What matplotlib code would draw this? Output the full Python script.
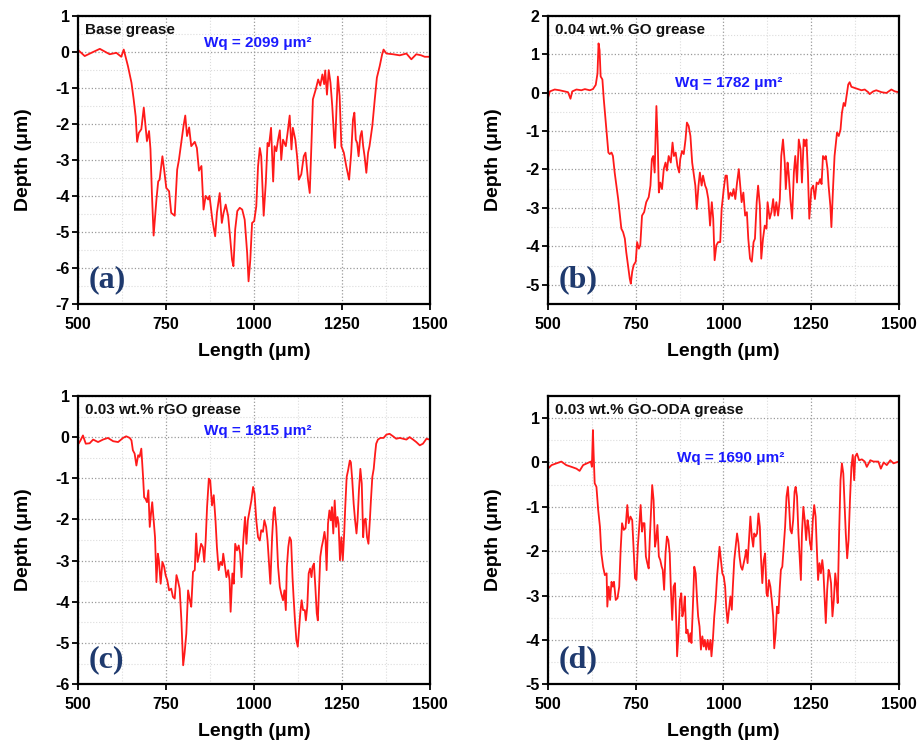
import matplotlib
matplotlib.use('Agg')
import matplotlib.pyplot as plt
import numpy as np
from matplotlib.ticker import MultipleLocator

plt.rcParams.update({'font.family': 'Liberation Sans', 'font.weight': 'bold',
                     'axes.unicode_minus': False})

# wear-scar cross-section profiles: (length um, depth um)
base_profile = [
    (500, 0.05), (519, -0.12), (538, -0.03), (562, 0.08), (590, -0.07), (609, -0.03), (623, -0.14),
    (630, 0.06), (642, -0.4), (652, -0.86), (658, -1.3), (664, -1.8), (668, -2.5), (673, -2.25),
    (680, -2.15), (687, -1.55), (692, -2.06), (696, -2.48), (702, -2.2), (706, -2.7), (710, -3.9),
    (715, -5.1), (723, -4.1), (728, -3.6), (732, -3.55), (740, -2.9), (746, -3.36), (751, -3.78),
    (759, -3.87), (765, -4.47), (775, -4.55), (782, -3.27), (787, -3.0), (794, -2.5), (800, -2.06),
    (805, -1.77), (810, -2.34), (816, -2.1), (822, -2.62), (832, -2.5), (838, -2.67), (844, -3.3),
    (851, -3.17), (857, -4.38), (863, -4.0), (870, -4.1), (874, -4.0), (882, -4.66), (890, -5.12),
    (895, -4.47), (903, -3.92), (909, -4.75), (914, -4.47), (920, -4.24), (927, -4.56), (933, -5.2),
    (938, -5.77), (942, -5.95), (947, -4.93), (953, -4.42), (960, -4.33), (967, -4.38), (974, -4.66),
    (981, -5.58), (985, -6.37), (990, -5.77), (995, -4.75), (1001, -4.7), (1007, -4.29), (1012, -3.18),
    (1017, -2.67), (1021, -2.9), (1028, -4.55), (1034, -3.64), (1039, -2.53), (1043, -2.62),
    (1049, -2.11), (1055, -3.6), (1059, -2.62), (1064, -2.76), (1069, -2.44), (1074, -2.18),
    (1078, -3.0), (1083, -2.44), (1091, -2.62), (1096, -2.25), (1102, -1.77), (1107, -2.71),
    (1111, -2.11), (1118, -2.44), (1123, -2.9), (1128, -3.55), (1135, -3.4), (1142, -2.9),
    (1147, -2.8), (1154, -3.55), (1159, -3.92), (1164, -2.53), (1168, -1.32), (1176, -1.05),
    (1183, -0.77), (1189, -0.94), (1195, -0.63), (1200, -0.9), (1203, -0.52), (1208, -1.19),
    (1213, -0.51), (1218, -0.86), (1223, -1.5), (1228, -2.34), (1231, -2.67), (1235, -1.6),
    (1239, -0.69), (1244, -1.23), (1249, -2.62), (1256, -2.8), (1263, -3.18), (1271, -3.55),
    (1277, -2.8), (1282, -1.88), (1286, -1.69), (1290, -2.44), (1294, -2.53), (1298, -2.9),
    (1303, -2.34), (1307, -2.2), (1311, -2.62), (1315, -2.9), (1320, -3.36), (1325, -2.8),
    (1329, -2.62), (1337, -2.06), (1344, -1.32), (1350, -0.72), (1358, -0.4), (1365, -0.07),
    (1369, 0.06), (1377, -0.05), (1396, -0.07), (1415, -0.1), (1434, -0.05), (1448, -0.21),
    (1462, -0.07), (1476, -0.1), (1486, -0.14), (1500, -0.14),
]

go_profile = [
    (500, -0.14), (505, 0.03), (519, 0.08), (533, 0.06), (548, 0.03), (557, 0.01), (564, -0.16),
    (569, 0.03), (581, 0.08), (595, 0.06), (605, 0.09), (619, 0.06), (628, 0.09), (636, 0.2),
    (641, 0.5), (644, 1.28), (647, 1.1), (650, 0.42), (655, 0.34), (659, -0.18), (664, -0.7),
    (668, -1.13), (672, -1.56), (676, -1.6), (681, -1.56), (685, -1.65), (690, -2.08), (695, -2.42),
    (700, -2.77), (704, -3.11), (709, -3.54), (714, -3.63), (719, -3.8), (723, -4.15), (728, -4.49),
    (733, -4.84), (736, -4.97), (740, -4.66), (744, -4.49), (750, -4.4), (754, -3.89), (759, -4.06),
    (763, -3.97), (768, -3.2), (774, -3.11), (780, -2.85), (787, -2.72), (792, -2.42), (796, -1.73),
    (800, -1.65), (804, -2.08), (809, -0.35), (813, -1.39), (816, -2.6), (820, -2.34), (825, -2.51),
    (830, -1.99), (835, -1.82), (839, -2.03), (844, -1.65), (850, -1.82), (855, -1.3), (859, -1.65),
    (864, -1.56), (869, -1.91), (874, -2.08), (877, -1.73), (882, -1.52), (887, -1.6), (892, -1.22),
    (896, -0.78), (901, -0.87), (906, -1.13), (911, -1.82), (915, -2.08), (920, -2.42), (924, -3.03),
    (929, -2.42), (933, -2.08), (938, -2.42), (942, -2.16), (948, -2.42), (952, -2.51), (957, -2.77),
    (962, -3.46), (967, -2.85), (971, -3.28), (975, -4.36), (980, -3.97), (985, -3.89), (991, -3.89),
    (995, -3.03), (1001, -2.51), (1006, -2.16), (1010, -2.16), (1015, -2.77), (1020, -2.6),
    (1025, -2.69), (1029, -2.51), (1034, -2.77), (1039, -2.34), (1044, -1.99), (1048, -2.42),
    (1052, -2.85), (1057, -2.6), (1062, -3.2), (1067, -3.11), (1071, -3.8), (1076, -4.32),
    (1081, -4.4), (1086, -3.89), (1090, -3.8), (1095, -2.85), (1099, -2.42), (1104, -2.94),
    (1108, -4.32), (1113, -3.8), (1118, -3.46), (1123, -3.54), (1126, -2.85), (1132, -3.28),
    (1137, -3.11), (1142, -2.77), (1146, -3.2), (1151, -2.85), (1156, -3.2), (1161, -2.77),
    (1165, -1.65), (1170, -1.22), (1175, -1.82), (1178, -2.51), (1183, -1.82), (1186, -2.08),
    (1191, -2.77), (1196, -3.28), (1201, -2.08), (1205, -1.65), (1210, -2.34), (1215, -1.22),
    (1220, -1.47), (1224, -2.34), (1229, -1.22), (1233, -1.39), (1237, -1.22), (1241, -2.08),
    (1245, -3.28), (1251, -2.51), (1256, -2.42), (1261, -2.77), (1266, -2.34), (1271, -2.38),
    (1276, -2.25), (1280, -2.38), (1284, -1.65), (1289, -1.73), (1292, -1.65), (1297, -1.99),
    (1300, -2.42), (1305, -2.94), (1308, -3.5), (1313, -2.42), (1317, -1.65), (1320, -1.39),
    (1324, -1.04), (1329, -1.13), (1334, -0.96), (1338, -0.53), (1343, -0.27), (1347, -0.35),
    (1351, -0.1), (1356, 0.21), (1360, 0.27), (1365, 0.15), (1375, 0.12), (1384, 0.09), (1394, 0.06),
    (1403, 0.08), (1413, 0.01), (1417, -0.04), (1427, 0.03), (1436, 0.06), (1451, 0.01),
    (1465, -0.01), (1479, 0.08), (1489, 0.03), (1500, 0.01),
]

rgo_profile = [
    (500, -0.18), (507, -0.08), (514, 0.04), (522, -0.16), (533, -0.15), (543, -0.06), (557, -0.12),
    (571, -0.06), (585, -0.02), (600, -0.1), (614, -0.12), (628, -0.02), (637, 0.02), (647, -0.02),
    (652, -0.08), (656, -0.32), (661, -0.4), (666, -0.69), (671, -0.44), (675, -0.48), (680, -0.28),
    (685, -0.97), (688, -1.46), (692, -1.5), (696, -1.58), (700, -1.29), (704, -2.18), (708, -1.82),
    (711, -1.58), (715, -2.02), (719, -2.43), (723, -3.52), (727, -2.83), (730, -2.99), (735, -3.56),
    (740, -3.03), (745, -3.15), (749, -3.35), (754, -3.48), (759, -3.72), (765, -3.68), (770, -3.88),
    (775, -3.92), (780, -3.35), (784, -3.48), (789, -3.68), (794, -4.45), (799, -5.54), (803, -5.25),
    (808, -4.77), (813, -3.72), (818, -3.96), (822, -4.12), (827, -3.27), (832, -3.23), (836, -2.34),
    (840, -3.03), (845, -2.83), (850, -2.59), (855, -2.67), (859, -3.03), (863, -2.51), (867, -1.7),
    (872, -1.01), (876, -1.05), (881, -1.66), (886, -1.41), (891, -2.02), (895, -2.67), (900, -3.23),
    (905, -3.03), (910, -3.11), (913, -2.83), (918, -3.15), (922, -3.4), (927, -3.23), (931, -3.48),
    (934, -4.24), (939, -3.31), (943, -3.56), (947, -2.59), (952, -2.75), (957, -2.63), (961, -2.83),
    (965, -3.4), (970, -2.51), (975, -1.94), (979, -2.59), (983, -2.02), (988, -1.78), (993, -1.54),
    (998, -1.21), (1002, -1.37), (1007, -2.02), (1012, -2.43), (1017, -2.51), (1021, -2.26),
    (1026, -2.3), (1030, -2.02), (1035, -2.18), (1039, -2.51), (1043, -3.03), (1047, -3.56),
    (1052, -2.43), (1056, -1.82), (1059, -1.7), (1064, -2.18), (1069, -3.15), (1074, -3.64),
    (1078, -3.8), (1083, -3.96), (1087, -3.72), (1091, -4.2), (1094, -3.15), (1098, -2.67),
    (1102, -2.43), (1106, -2.51), (1110, -3.4), (1113, -3.88), (1117, -4.45), (1121, -4.93),
    (1125, -5.09), (1129, -4.61), (1132, -4.28), (1136, -3.96), (1140, -4.2), (1145, -4.2),
    (1148, -4.45), (1152, -4.12), (1156, -3.31), (1160, -3.19), (1164, -3.4), (1167, -3.15),
    (1171, -3.07), (1175, -3.64), (1179, -4.28), (1182, -4.45), (1185, -3.8), (1189, -2.91),
    (1193, -2.67), (1197, -2.51), (1201, -2.3), (1204, -2.51), (1207, -3.23), (1211, -2.1),
    (1215, -1.78), (1219, -2.02), (1222, -1.7), (1226, -2.34), (1230, -1.54), (1234, -2.18),
    (1238, -1.94), (1241, -2.1), (1245, -2.99), (1249, -2.43), (1253, -2.99), (1257, -2.34),
    (1260, -1.7), (1264, -0.97), (1268, -0.81), (1273, -0.57), (1276, -0.61), (1280, -1.05),
    (1284, -1.62), (1288, -2.02), (1292, -2.34), (1295, -2.02), (1299, -1.29), (1303, -0.77),
    (1307, -1.13), (1311, -2.43), (1314, -2.02), (1318, -1.98), (1322, -2.43), (1326, -2.59),
    (1330, -2.02), (1333, -1.54), (1337, -0.97), (1341, -0.77), (1345, -0.4), (1348, -0.16),
    (1353, -0.06), (1360, -0.02), (1369, -0.02), (1377, 0.06), (1386, 0.08), (1396, 0.02),
    (1405, -0.04), (1415, -0.02), (1424, -0.04), (1434, -0.06), (1443, 0.0), (1453, -0.06),
    (1462, -0.12), (1472, -0.2), (1481, -0.16), (1491, -0.04), (1500, -0.06),
]

oda_profile = [
    (500, -0.14), (510, -0.06), (524, -0.02), (538, 0.02), (552, -0.06), (567, -0.1), (581, -0.14),
    (590, -0.19), (600, -0.06), (614, -0.01), (622, 0.02), (625, -0.1), (628, 0.73), (630, 0.2),
    (633, -0.47), (638, -0.55), (643, -1.07), (648, -1.45), (652, -2.05), (657, -2.35), (662, -2.54),
    (667, -2.5), (669, -3.25), (673, -2.8), (677, -3.1), (681, -2.69), (685, -2.8), (688, -2.69),
    (693, -3.1), (698, -3.06), (703, -2.8), (707, -1.97), (711, -1.37), (716, -1.52), (721, -1.48),
    (726, -0.96), (730, -1.37), (735, -1.22), (740, -1.3), (745, -2.12), (748, -2.61), (752, -2.65),
    (756, -1.9), (760, -1.45), (764, -0.96), (768, -1.56), (771, -1.37), (775, -1.37), (779, -2.12),
    (783, -2.27), (787, -2.39), (790, -1.75), (794, -1.07), (797, -0.51), (801, -0.85), (805, -1.9),
    (808, -1.75), (812, -1.41), (816, -2.12), (820, -2.2), (824, -2.35), (827, -2.42), (831, -2.87),
    (835, -2.05), (839, -1.67), (843, -1.75), (847, -2.05), (850, -2.8), (854, -3.55), (858, -2.8),
    (862, -2.72), (866, -3.7), (868, -4.37), (872, -3.85), (876, -3.1), (880, -2.95), (883, -3.47),
    (887, -3.32), (890, -3.02), (894, -3.85), (898, -3.77), (902, -4.04), (906, -3.85), (909, -4.07),
    (913, -3.25), (917, -2.35), (921, -2.5), (925, -3.1), (928, -3.47), (932, -3.7), (936, -4.22),
    (940, -3.92), (944, -4.15), (947, -4.0), (951, -4.22), (955, -4.0), (959, -4.22), (963, -4.0),
    (966, -4.37), (970, -4.0), (974, -3.47), (978, -3.1), (982, -2.57), (986, -2.2), (989, -1.9),
    (993, -2.2), (997, -2.5), (1001, -2.57), (1005, -2.8), (1008, -3.25), (1012, -3.62),
    (1016, -3.32), (1020, -3.02), (1024, -3.32), (1027, -2.8), (1031, -2.2), (1035, -1.9),
    (1039, -1.6), (1043, -1.82), (1046, -2.12), (1050, -2.35), (1054, -2.42), (1058, -2.27),
    (1062, -2.12), (1065, -1.97), (1069, -2.27), (1073, -1.75), (1077, -1.22), (1081, -1.67),
    (1085, -1.9), (1088, -1.6), (1092, -1.67), (1096, -1.6), (1100, -1.15), (1104, -1.45),
    (1107, -2.12), (1111, -2.72), (1115, -2.2), (1119, -2.05), (1123, -2.95), (1126, -3.02),
    (1130, -2.65), (1134, -2.8), (1138, -3.1), (1142, -3.47), (1145, -4.19), (1149, -3.85),
    (1153, -3.25), (1157, -3.4), (1161, -2.8), (1164, -2.42), (1168, -2.35), (1172, -1.9),
    (1176, -1.45), (1180, -0.77), (1184, -0.55), (1187, -0.92), (1191, -1.52), (1195, -1.6),
    (1199, -1.3), (1203, -0.66), (1206, -0.55), (1210, -0.77), (1214, -1.6), (1218, -2.2),
    (1221, -2.65), (1224, -1.6), (1228, -1.0), (1232, -1.3), (1236, -1.75), (1240, -1.3),
    (1243, -1.45), (1247, -1.82), (1251, -1.97), (1255, -1.3), (1259, -0.96), (1263, -1.22),
    (1266, -1.82), (1270, -2.65), (1274, -2.27), (1278, -2.5), (1282, -2.2), (1285, -2.42),
    (1289, -3.1), (1292, -3.62), (1296, -2.87), (1300, -2.42), (1303, -2.5), (1307, -2.72),
    (1311, -3.47), (1315, -3.1), (1319, -2.5), (1323, -2.8), (1326, -3.17), (1330, -1.6),
    (1334, -0.4), (1338, -0.02), (1342, -0.25), (1345, -0.85), (1349, -1.6), (1353, -2.16),
    (1357, -1.75), (1361, -0.85), (1365, -0.1), (1369, 0.17), (1373, -0.4), (1376, 0.13),
    (1381, 0.2), (1387, 0.05), (1395, 0.07), (1403, 0.02), (1409, -0.1), (1419, 0.05), (1428, 0.02),
    (1442, 0.02), (1449, -0.14), (1457, 0.0), (1466, -0.06), (1476, 0.05), (1485, -0.02), (1500, 0.02),
]

names = ['Base grease', '0.04 wt.% GO grease', '0.03 wt.% rGO grease', '0.03 wt.% GO-ODA grease']
wq_values = [2099, 1782, 1815, 1690]
panel_tags = ['(a)', '(b)', '(c)', '(d)']
y_limits = [(-7, 1), (-5.5, 2), (-6, 1), (-5, 1.5)]
profiles = [base_profile, go_profile, rgo_profile, oda_profile]

# axes boxes [left, bottom, width, height] and where the Wq note sits
boxes = [[0.085, 0.593, 0.383, 0.386], [0.597, 0.593, 0.382, 0.386],
         [0.085, 0.084, 0.383, 0.386], [0.597, 0.084, 0.382, 0.386]]
wq_pos = [(0.51, 0.905), (0.515, 0.765), (0.51, 0.88), (0.52, 0.785)]

fig = plt.figure(figsize=(9.18, 7.47), dpi=100)

for i in range(4):
    ax = fig.add_axes(boxes[i])
    prof = np.array(profiles[i])
    ax.plot(prof[:, 0], prof[:, 1], color='#ff1a1a', lw=1.3)

    ax.set_xlim(500, 1500)
    ax.set_ylim(*y_limits[i])
    ax.xaxis.set_major_locator(MultipleLocator(250))
    ax.xaxis.set_minor_locator(MultipleLocator(125))
    ax.yaxis.set_major_locator(MultipleLocator(1))
    ax.yaxis.set_minor_locator(MultipleLocator(0.5))
    ax.grid(which='major', ls=':', color='#9a9a9a', lw=0.9)
    ax.grid(which='minor', ls=':', color='#dcdcdc', lw=0.8)
    ax.set_axisbelow(True)
    ax.tick_params(which='major', direction='out', length=4, width=1.3, labelsize=11.5)
    ax.tick_params(axis='x', which='major', pad=5)
    ax.tick_params(axis='y', which='major', pad=2)
    ax.tick_params(which='minor', length=0)
    for sp in ax.spines.values():
        sp.set_linewidth(1.6)
    for lbl in ax.get_xticklabels() + ax.get_yticklabels():
        lbl.set_fontweight('bold')

    ax.set_xlabel('Length (μm)', fontsize=14, fontweight='bold', labelpad=8)
    ax.set_ylabel('Depth (μm)', fontsize=14, fontweight='bold', labelpad=17)

    ax.text(0.02, 0.975, names[i], transform=ax.transAxes, ha='left', va='top',
            fontsize=11, fontweight='bold', color='#111111')
    ax.text(wq_pos[i][0], wq_pos[i][1], f'Wq = {wq_values[i]} μm²', transform=ax.transAxes,
            ha='center', va='center', fontsize=11, fontweight='bold', color='#1a1aff')
    ax.text(0.03, 0.035, panel_tags[i], transform=ax.transAxes, ha='left', va='bottom',
            fontsize=23, fontweight='bold', family='Liberation Serif', color='#1f3a6e')

fig.savefig('out.png', dpi=100)
